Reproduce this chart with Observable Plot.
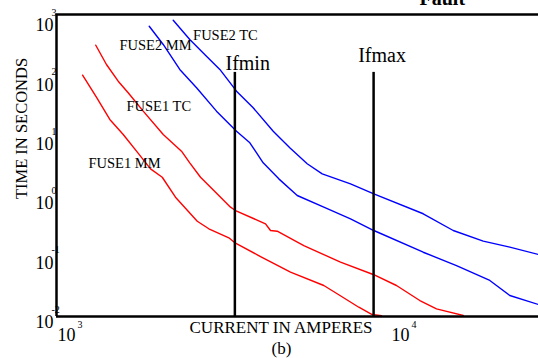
<!DOCTYPE html>
<html><head><meta charset="utf-8">
<script src="https://cdn.jsdelivr.net/npm/d3@7"></script>
<script src="https://cdn.jsdelivr.net/npm/@observablehq/plot@0.6"></script>
<style>html,body{margin:0;padding:0;background:#fff;overflow:hidden}</style>
</head><body><div id="chart"></div>
<script>
// Series data (current in amperes, time in seconds)
const fuse1MMCurrent = [1197,1318,1444,1584,1736,1912,2073,2271,2639,2858,3281,3435,4082,5018,6314,6924,8037,8814,9398];
const fuse1MMTime = [95.1,40.1,17.1,9.55,5.0,2.52,1.82,0.84,0.331,0.247,0.174,0.141,0.0843,0.0459,0.0274,0.0199,0.0118,0.00889,0.00847];
const fuse1TCCurrent = [1311,1411,1530,1639,1818,2087,2367,2506,2699,2958,3319,3435,4225,4373,4579,5501,7084,8875,10420,12240,13730,16510];
const fuse1TCTime = [304,144,75.4,48.1,23.6,9.55,5.0,3.18,1.82,1.09,0.570,0.501,0.299,0.231,0.225,0.129,0.0676,0.0420,0.0274,0.0153,0.0111,0.00857];
const fuse2MMCurrent = [1895,2087,2339,2626,3013,3459,3792,4157,4630,5257,6314,7591,8913,12530,15760,19830,22760,27740];
const fuse2MMTime = [635,313,119,58.3,23.6,10.8,6.92,3.18,1.71,0.897,0.570,0.364,0.231,0.0995,0.0594,0.0333,0.0186,0.0131];
const fuse2TCCurrent = [2236,2506,2812,3083,3459,3880,4455,4994,5631,6245,7591,8913,12530,15410,18950,22760,27740];
const fuse2TCTime = [802,379,199,119,51.2,26.9,10.8,5.70,3.07,2.08,1.41,0.959,0.442,0.231,0.153,0.121,0.0912];

const seriesNames = ["FUSE1 MM", "FUSE1 TC", "FUSE2 MM", "FUSE2 TC"];
const labelCurrent = [1247, 1620, 1544, 2564];
const labelTime = [3.16, 28.2, 300, 443];

const faultNames = ["Ifmin", "Ifmax"];
const faultCurrent = [3420, 8900];
const faultLineTopTime = 106;
const faultLabelCurrent = [3206, 8000];
const faultLabelTime = [152, 200];

const xDomain = [1000, 27740];
const yDomain = [0.00824, 1000];
const xTicks = [1000, 10000];
const xExp = ["3", "4"];
const yTicks = [0.01, 0.1, 1, 10, 100, 1000];
const yExp = ["-2", "-1", "0", "1", "2", "3"];

const xTitle = "CURRENT IN AMPERES";
const yTitle = "TIME IN SECONDS";
const caption = "(b)";
const topText = "Fault";

// Build table
const seriesCurrents = [fuse1MMCurrent, fuse1TCCurrent, fuse2MMCurrent, fuse2TCCurrent];
const seriesTimes = [fuse1MMTime, fuse1TCTime, fuse2MMTime, fuse2TCTime];
const rows = [];
seriesNames.forEach((s, i) => seriesCurrents[i].forEach((c, j) => rows.push({series: s, current: c, time: seriesTimes[i][j]})));
const labels = seriesNames.map((s, i) => ({name: s, current: labelCurrent[i], time: labelTime[i]}));
const faults = faultNames.map((n, i) => ({name: n, current: faultCurrent[i], lc: faultLabelCurrent[i], lt: faultLabelTime[i]}));
const yt = yTicks.map((v, i) => ({v, e: yExp[i]}));
const xt = xTicks.map((v, i) => ({v, e: xExp[i]}));

const serif = "'Liberation Serif', 'Times New Roman', serif";

const chart = Plot.plot({
  width: 538, height: 358,
  marginLeft: 56, marginRight: 0, marginTop: 14, marginBottom: 42,
  x: {type: "log", domain: xDomain, axis: null},
  y: {type: "log", domain: yDomain, axis: null},
  color: {domain: seriesNames, range: ["#ff0000", "#ff0000", "#0000ff", "#0000ff"]},
  style: {fontFamily: serif, background: "#fff", color: "#000", overflow: "visible"},
  marks: [
    Plot.line(rows, {x: "current", y: "time", z: "series", stroke: "series", strokeWidth: 1.4, clip: true}),
    Plot.ruleX(faults, {x: "current", y1: faultLineTopTime, y2: yDomain[0], stroke: "#000", strokeWidth: 2.5}),
    Plot.text(faults, {x: "lc", y: "lt", text: "name", textAnchor: "start", fontSize: 20, fill: "#000"}),
    Plot.text(labels, {x: "current", y: "time", text: "name", textAnchor: "start", fontSize: 14.5, fill: "#000"}),
    Plot.ruleX([xDomain[0]], {stroke: "#000", strokeWidth: 2.5}),
    Plot.ruleY([yDomain[1], yDomain[0]], {stroke: "#000", strokeWidth: 2.5}),
    // y tick labels
    Plot.text(yt, {y: "v", frameAnchor: "left", text: () => "10", textAnchor: "end", lineAnchor: "middle", dx: -3, dy: 11, fontSize: 18, fill: "#000"}),
    Plot.text(yt, {y: "v", frameAnchor: "left", text: "e", textAnchor: "start", lineAnchor: "middle", dx: -5, dy: -2, fontSize: 10, fill: "#000"}),
    // x tick labels
    Plot.text(xt, {x: "v", frameAnchor: "bottom", text: () => "10", textAnchor: "start", lineAnchor: "middle", dx: 1, dy: 19, fontSize: 18, fill: "#000"}),
    Plot.text(xt, {x: "v", frameAnchor: "bottom", text: "e", textAnchor: "start", lineAnchor: "middle", dx: 21, dy: 8, fontSize: 10, fill: "#000"}),
    // titles
    Plot.text([yTitle], {frameAnchor: "left", rotate: -90, textAnchor: "middle", lineAnchor: "middle", dx: -35, dy: -37, fontSize: 16.5, fill: "#000"}),
    Plot.text([xTitle], {frameAnchor: "bottom", textAnchor: "middle", lineAnchor: "middle", dx: -16.5, dy: 11, fontSize: 17, fill: "#000"}),
    Plot.text([caption], {frameAnchor: "bottom", textAnchor: "middle", lineAnchor: "middle", dx: -16, dy: 32, fontSize: 17, fill: "#000"}),
    Plot.text([topText], {frameAnchor: "top-left", dx: 363, dy: -16.4, textAnchor: "start", lineAnchor: "middle", fontSize: 20, fontWeight: "bold", fill: "#000"})
  ]
});
document.getElementById("chart").appendChild(chart);
</script>
</body></html>
